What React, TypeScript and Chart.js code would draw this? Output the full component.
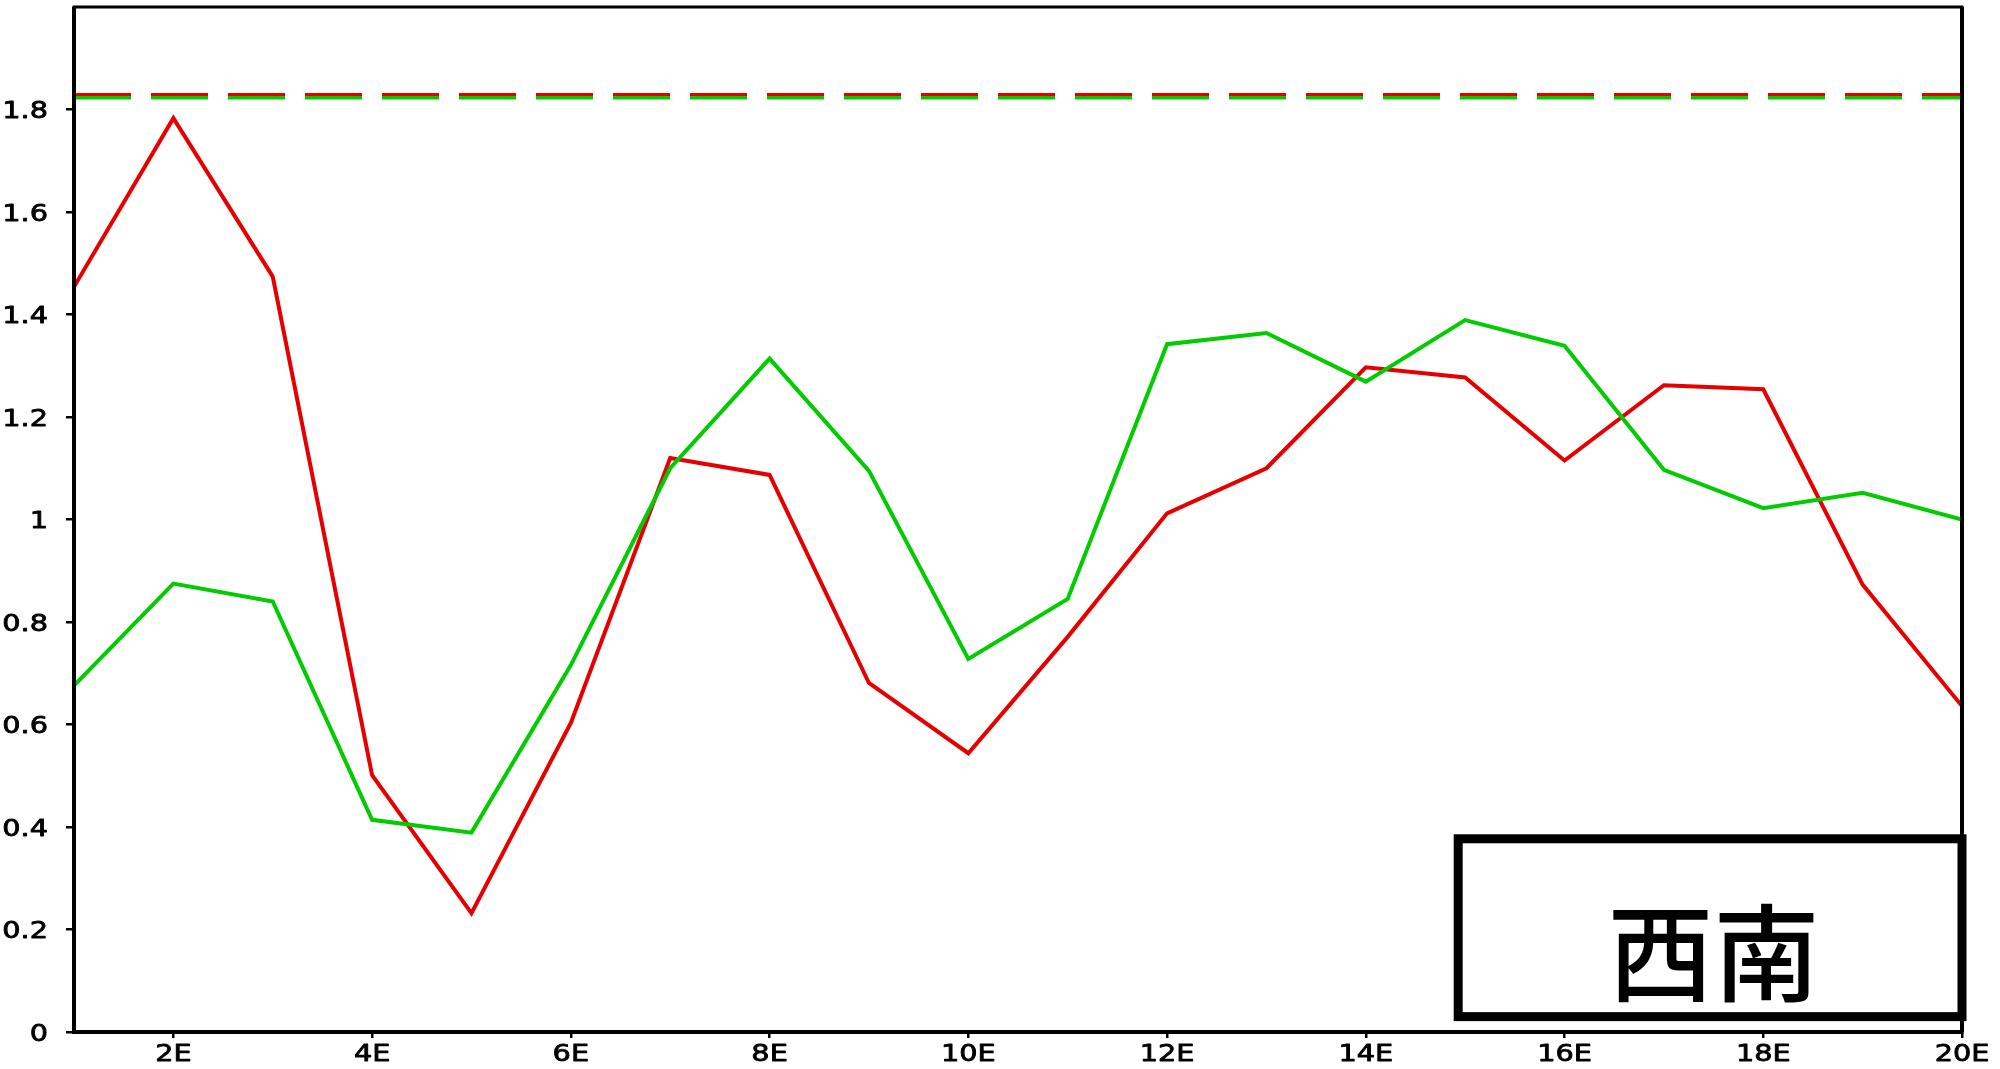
import React, { useEffect, useRef } from "react";
import { Chart, registerables } from "chart.js";

Chart.register(...registerables);

const xValues = [1, 2, 3, 4, 5, 6, 7, 8, 9, 10, 11, 12, 13, 14, 15, 16, 17, 18, 19, 20];
const redSeries = [1.454, 1.783, 1.474, 0.501, 0.232, 0.603, 1.12, 1.087, 0.681, 0.544, 0.771, 1.012, 1.1, 1.297, 1.277, 1.115, 1.262, 1.254, 0.873, 0.636];
const greenSeries = [0.676, 0.875, 0.84, 0.414, 0.389, 0.716, 1.1, 1.314, 1.095, 0.728, 0.845, 1.342, 1.364, 1.269, 1.389, 1.339, 1.097, 1.022, 1.052, 1.0];
const redMean = 1.829;
const greenMean = 1.823;
const xTickValues = [2, 4, 6, 8, 10, 12, 14, 16, 18, 20];
const xTickLabels = ["2E", "4E", "6E", "8E", "10E", "12E", "14E", "16E", "18E", "20E"];
const yTickValues = [0, 0.2, 0.4, 0.6, 0.8, 1.0, 1.2, 1.4, 1.6, 1.8];
const yTickLabels = ["0", "0.2", "0.4", "0.6", "0.8", "1", "1.2", "1.4", "1.6", "1.8"];
const regionLabel = "西南";
const labelBoxX = [14.93, 20.0];
const labelBoxY = [0.03, 0.377];
const labelPos = { x: 17.5, y: 0.155 };

const RED = "#e60000";
const GREEN = "#00cc00";
const TICK_FONT = '23px "DejaVu Sans"';
const STRETCH = 1.25;

export default function App() {
  const ref = useRef<HTMLCanvasElement | null>(null);

  useEffect(() => {
    document.body.style.margin = "0";
    const canvas = ref.current;
    if (!canvas) return;

    const framePlugin = {
      id: "frameAndBox",
      afterDatasetsDraw(chart: any) {
        const { ctx, chartArea, scales } = chart;
        ctx.save();
        ctx.strokeStyle = "#000";
        ctx.lineWidth = 3;
        ctx.strokeRect(chartArea.left, chartArea.top, chartArea.right - chartArea.left, chartArea.bottom - chartArea.top);
        ctx.lineWidth = 4;
        ctx.beginPath();
        ctx.moveTo(chartArea.left, chartArea.top);
        ctx.lineTo(chartArea.left, chartArea.bottom);
        ctx.lineTo(chartArea.right, chartArea.bottom);
        ctx.moveTo(chartArea.right, chartArea.top);
        ctx.lineTo(chartArea.right, chartArea.bottom);
        ctx.stroke();

        // tick labels (horizontally stretched, slightly heavier like the original)
        ctx.fillStyle = "#000";
        ctx.font = TICK_FONT;
        ctx.textBaseline = "alphabetic";
        ctx.lineWidth = 0.8;
        ctx.lineJoin = "round";
        const drawLabel = (text: string, x: number, y: number, align: CanvasTextAlign) => {
          ctx.save();
          ctx.translate(x, y);
          ctx.scale(STRETCH, 1);
          ctx.textAlign = align;
          ctx.fillText(text, 0, 0);
          ctx.strokeText(text, 0, 0);
          ctx.restore();
        };
        yTickValues.forEach((v, i) => {
          drawLabel(yTickLabels[i], chartArea.left - 26, scales.y.getPixelForValue(v) + 8.5, "right");
        });
        xTickValues.forEach((v, i) => {
          drawLabel(xTickLabels[i], scales.x.getPixelForValue(v), chartArea.bottom + 29, "center");
        });

        // label box
        const x0 = scales.x.getPixelForValue(labelBoxX[0]);
        const x1 = scales.x.getPixelForValue(labelBoxX[1]);
        const y0 = scales.y.getPixelForValue(labelBoxY[1]);
        const y1 = scales.y.getPixelForValue(labelBoxY[0]);
        ctx.fillStyle = "#fff";
        ctx.fillRect(x0, y0, x1 - x0, y1 - y0);
        ctx.lineWidth = 9;
        ctx.lineJoin = "miter";
        ctx.strokeRect(x0, y0, x1 - x0, y1 - y0);
        ctx.fillStyle = "#000";
        ctx.font = '500 106px "Noto Sans CJK SC"';
        ctx.textAlign = "center";
        ctx.textBaseline = "middle";
        ctx.fillText(regionLabel, scales.x.getPixelForValue(labelPos.x), scales.y.getPixelForValue(labelPos.y));
        ctx.restore();
      },
    };

    const toPts = (arr: number[]) => arr.map((v, i) => ({ x: xValues[i], y: v }));
    const flat = (v: number) => [
      { x: xValues[0], y: v },
      { x: xValues[xValues.length - 1], y: v },
    ];

    const zeroPad = (scale: any) => {
      scale.paddingTop = 0;
      scale.paddingBottom = 0;
      scale.paddingLeft = 0;
      scale.paddingRight = 0;
    };

    const chart = new Chart(canvas, {
      type: "line",
      data: {
        datasets: [
          { data: toPts(greenSeries), borderColor: GREEN, borderWidth: 4, pointRadius: 0, fill: false },
          { data: toPts(redSeries), borderColor: RED, borderWidth: 4, pointRadius: 0, fill: false },
          { data: flat(greenMean), borderColor: GREEN, borderWidth: 3.5, borderDash: [57, 20], pointRadius: 0, fill: false },
          { data: flat(redMean), borderColor: RED, borderWidth: 3.5, borderDash: [57, 20], pointRadius: 0, fill: false },
        ],
      },
      options: {
        animation: false,
        responsive: false,
        maintainAspectRatio: false,
        layout: { padding: { top: 7, right: 38, left: 0, bottom: 0 } },
        plugins: { legend: { display: false }, tooltip: { enabled: false }, title: { display: false } },
        scales: {
          x: {
            type: "linear",
            min: 1,
            max: 20,
            afterBuildTicks: (scale: any) => {
              scale.ticks = xTickValues.map((v) => ({ value: v }));
            },
            afterFit: (scale: any) => {
              scale.height = 37;
              zeroPad(scale);
            },
            grid: { drawOnChartArea: false, drawTicks: true, tickLength: 6, color: "#000", lineWidth: 2.5 },
            border: { display: false },
            ticks: { display: false, autoSkip: false },
          },
          y: {
            type: "linear",
            min: 0,
            max: 2.0,
            afterBuildTicks: (scale: any) => {
              scale.ticks = yTickValues.map((v) => ({ value: v }));
            },
            afterFit: (scale: any) => {
              scale.width = 74;
              zeroPad(scale);
            },
            grid: { drawOnChartArea: false, drawTicks: true, tickLength: 8, color: "#000", lineWidth: 2.5 },
            border: { display: false },
            ticks: { display: false, autoSkip: false },
          },
        },
      },
      plugins: [framePlugin],
    });

    return () => chart.destroy();
  }, []);

  return <canvas ref={ref} width={2000} height={1069} style={{ display: "block", width: 2000, height: 1069 }} />;
}
